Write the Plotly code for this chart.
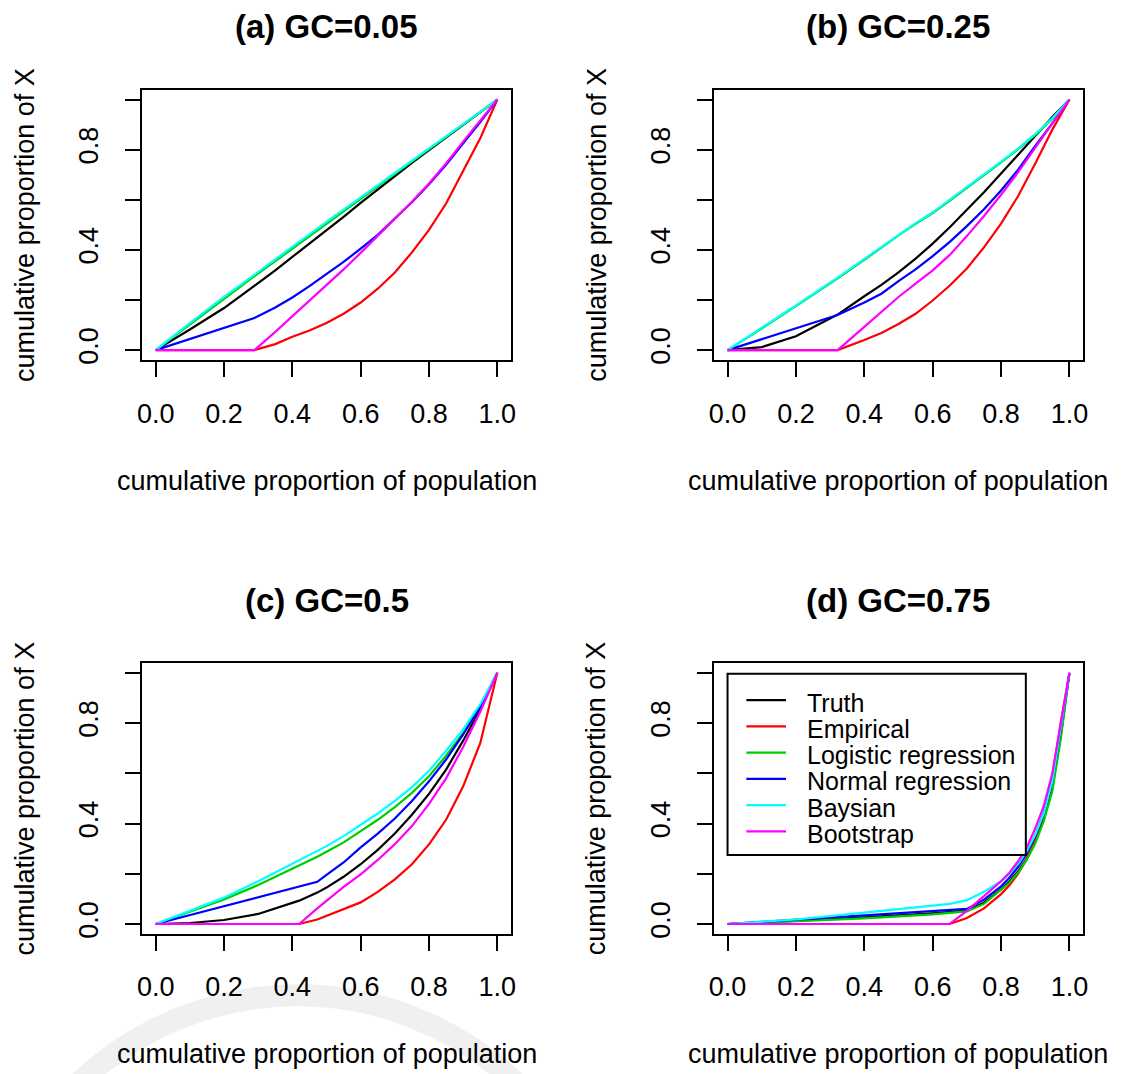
import plotly.graph_objects as go

W, H = 1123, 1074
OFF = 8  # default page body margin of the html page

# ---------------- data ----------------
SERIES = ["Truth", "Empirical", "Logistic regression", "Normal regression", "Baysian", "Bootstrap"]
COLORS = ["#000000", "#FF0000", "#00CD00", "#0000FF", "#00FFFF", "#FF00FF"]
TITLES = ["(a) GC=0.05", "(b) GC=0.25", "(c) GC=0.5", "(d) GC=0.75"]
X_TICKS = [0, 0.2, 0.4, 0.6, 0.8, 1.0]
X_TICK_TEXT = ["0.0", "0.2", "0.4", "0.6", "0.8", "1.0"]
Y_TICKS = [0, 0.2, 0.4, 0.6, 0.8, 1.0]
Y_TICK_TEXT = ["0.0", "", "0.4", "", "0.8", ""]
X_LABEL = "cumulative proportion of population"
Y_LABEL = "cumulative proportion of X"

# panel (a)
A_X = [0, 0.1, 0.2, 0.289, 0.35, 0.4, 0.45, 0.5, 0.55, 0.6, 0.65, 0.7, 0.75, 0.8, 0.85, 0.9, 0.95, 1.0]
A_TRUTH = [0, 0.082, 0.168, 0.256, 0.318, 0.372, 0.425, 0.478, 0.532, 0.588, 0.642, 0.695, 0.747, 0.798, 0.849, 0.9, 0.95, 1.0]
A_EMP = [0, 0, 0, 0, 0.024, 0.053, 0.078, 0.108, 0.145, 0.19, 0.245, 0.31, 0.39, 0.48, 0.585, 0.712, 0.845, 1.0]
A_LOGIT = [0, 0.103, 0.205, 0.295, 0.355, 0.405, 0.455, 0.505, 0.555, 0.604, 0.653, 0.703, 0.752, 0.802, 0.851, 0.901, 0.951, 1.0]
A_NORM = [0, 0.044, 0.088, 0.128, 0.17, 0.21, 0.255, 0.302, 0.352, 0.405, 0.46, 0.525, 0.59, 0.662, 0.74, 0.825, 0.91, 1.0]
A_BAYES = [0, 0.108, 0.212, 0.302, 0.362, 0.412, 0.462, 0.512, 0.561, 0.61, 0.659, 0.708, 0.757, 0.806, 0.855, 0.904, 0.952, 1.0]
A_BOOT = [0, 0, 0, 0, 0.073, 0.135, 0.195, 0.258, 0.322, 0.388, 0.455, 0.522, 0.592, 0.665, 0.745, 0.832, 0.915, 1.0]

# panel (b)
B_X = [0, 0.1, 0.2, 0.322, 0.4, 0.45, 0.5, 0.55, 0.6, 0.65, 0.7, 0.75, 0.8, 0.85, 0.9, 0.95, 1.0]
B_TRUTH = [0, 0.012, 0.055, 0.142, 0.215, 0.26, 0.31, 0.365, 0.425, 0.49, 0.56, 0.63, 0.705, 0.78, 0.855, 0.93, 1.0]
B_EMP = [0, 0, 0, 0, 0.04, 0.068, 0.104, 0.145, 0.198, 0.258, 0.326, 0.41, 0.505, 0.615, 0.745, 0.88, 1.0]
B_LOGIT = [0, 0.086, 0.176, 0.286, 0.36, 0.41, 0.458, 0.504, 0.547, 0.597, 0.647, 0.697, 0.749, 0.802, 0.859, 0.922, 1.0]
B_NORM = [0, 0.044, 0.087, 0.14, 0.19, 0.225, 0.275, 0.322, 0.375, 0.432, 0.495, 0.562, 0.637, 0.72, 0.815, 0.905, 1.0]
B_BAYES = [0, 0.088, 0.178, 0.289, 0.363, 0.413, 0.461, 0.507, 0.55, 0.6, 0.65, 0.7, 0.752, 0.805, 0.862, 0.925, 1.0]
B_BOOT = [0, 0, 0, 0, 0.093, 0.152, 0.212, 0.265, 0.318, 0.38, 0.455, 0.535, 0.62, 0.71, 0.81, 0.905, 1.0]

# panel (c)
C_X = [0, 0.1, 0.2, 0.3, 0.42, 0.473, 0.5, 0.55, 0.6, 0.65, 0.7, 0.75, 0.8, 0.85, 0.9, 0.95, 1.0]
C_TRUTH = [0, 0.004, 0.016, 0.04, 0.093, 0.125, 0.145, 0.188, 0.238, 0.295, 0.36, 0.435, 0.518, 0.615, 0.73, 0.855, 1.0]
C_EMP = [0, 0, 0, 0, 0, 0.018, 0.032, 0.058, 0.086, 0.128, 0.178, 0.238, 0.317, 0.415, 0.548, 0.72, 1.0]
C_LOGIT = [0, 0.048, 0.098, 0.155, 0.232, 0.268, 0.288, 0.325, 0.37, 0.415, 0.465, 0.522, 0.588, 0.67, 0.76, 0.865, 1.0]
C_NORM = [0, 0.0355, 0.071, 0.1065, 0.149, 0.168, 0.196, 0.245, 0.305, 0.36, 0.42, 0.49, 0.568, 0.655, 0.755, 0.865, 1.0]
C_BAYES = [0, 0.052, 0.105, 0.17, 0.252, 0.29, 0.31, 0.35, 0.395, 0.44, 0.49, 0.545, 0.61, 0.69, 0.775, 0.875, 1.0]
C_BOOT = [0, 0, 0, 0, 0, 0.062, 0.093, 0.148, 0.198, 0.255, 0.318, 0.39, 0.478, 0.58, 0.705, 0.845, 1.0]

# panel (d)
D_X = [0, 0.2, 0.4, 0.6, 0.65, 0.7, 0.75, 0.8, 0.825, 0.85, 0.875, 0.9, 0.925, 0.95, 0.975, 1.0]
D_TRUTH = [0, 0.012, 0.026, 0.042, 0.047, 0.053, 0.085, 0.138, 0.17, 0.21, 0.26, 0.33, 0.42, 0.545, 0.755, 1.0]
D_EMP = [0, 0, 0, 0, 0, 0.024, 0.062, 0.119, 0.155, 0.2, 0.26, 0.34, 0.445, 0.59, 0.805, 1.0]
D_LOGIT = [0, 0.01, 0.022, 0.038, 0.043, 0.05, 0.08, 0.135, 0.165, 0.205, 0.255, 0.32, 0.41, 0.53, 0.74, 1.0]
D_NORM = [0, 0.017, 0.034, 0.051, 0.056, 0.06, 0.097, 0.15, 0.185, 0.228, 0.28, 0.35, 0.44, 0.57, 0.78, 1.0]
D_BAYES = [0, 0.018, 0.045, 0.072, 0.08, 0.095, 0.128, 0.17, 0.2, 0.24, 0.29, 0.355, 0.44, 0.57, 0.78, 1.0]
D_BOOT = [0, 0, 0, 0, 0, 0.052, 0.11, 0.17, 0.205, 0.25, 0.305, 0.38, 0.47, 0.6, 0.8, 1.0]

PANELS = [
    (A_X, [A_TRUTH, A_EMP, A_LOGIT, A_NORM, A_BAYES, A_BOOT]),
    (B_X, [B_TRUTH, B_EMP, B_LOGIT, B_NORM, B_BAYES, B_BOOT]),
    (C_X, [C_TRUTH, C_EMP, C_LOGIT, C_NORM, C_BAYES, C_BOOT]),
    (D_X, [D_TRUTH, D_EMP, D_LOGIT, D_NORM, D_BAYES, D_BOOT]),
]

# ---------------- layout helpers (page pixel -> paper) ----------------
FW, FH = W - OFF, H - OFF


def px(x):
    return (x - OFF) / FW


def py(y):
    return 1 - (y - OFF) / FH


# plot boxes in page pixels: (left, right, top, bottom)
BOXES = [
    (138.2, 510.5, 89.9, 361.8),
    (715.2, 1087.8, 89.9, 361.8),
    (138.2, 510.5, 665.9, 938.4),
    (715.2, 1087.8, 665.9, 938.4),
]

FONT = "Liberation Sans, Arial, Helvetica, sans-serif"

fig = go.Figure()
layout = dict(
    width=FW, height=FH,
    margin=dict(l=0, r=0, t=0, b=0),
    paper_bgcolor="white", plot_bgcolor="white",
    showlegend=False,
    font=dict(family=FONT, size=27, color="black"),
    annotations=[], shapes=[],
)

for i, ((xs, ys_list), box) in enumerate(zip(PANELS, BOXES)):
    n = i + 1
    xa = "x" if n == 1 else f"x{n}"
    ya = "y" if n == 1 else f"y{n}"
    for name, col, ys in zip(SERIES, COLORS, ys_list):
        fig.add_trace(go.Scatter(x=xs, y=ys, mode="lines", name=name,
                                 line=dict(color=col, width=2.2),
                                 xaxis=xa, yaxis=ya, showlegend=False,
                                 hoverinfo="skip"))
    l, r, t, b = box
    common = dict(showgrid=False, zeroline=False, showline=True, mirror=True,
                  linecolor="black", linewidth=2, ticks="outside", ticklen=15,
                  tickwidth=2, tickcolor="black", range=[-0.04, 1.04],
                  fixedrange=True, tickfont=dict(family=FONT, size=27, color="black"))
    layout["xaxis" if n == 1 else f"xaxis{n}"] = dict(
        domain=[px(l), px(r)], anchor=ya, tickvals=X_TICKS, ticktext=X_TICK_TEXT,
        ticklabelstandoff=13, **common)
    layout["yaxis" if n == 1 else f"yaxis{n}"] = dict(
        domain=[py(b), py(t)], anchor=xa, tickvals=Y_TICKS, ticktext=Y_TICK_TEXT,
        tickangle=-90, ticklabelstandoff=16, **common)
    cx = (l + r) / 2
    cy = (t + b) / 2
    layout["annotations"].append(dict(text=f"<b>{TITLES[i]}</b>", x=px(cx), y=py(t - 63),
                                      xref="paper", yref="paper", showarrow=False,
                                      xanchor="center", yanchor="middle",
                                      font=dict(family=FONT, size=33, color="black")))
    layout["annotations"].append(dict(text=X_LABEL, x=px(cx), y=py(b + 121),
                                      xref="paper", yref="paper", showarrow=False,
                                      xanchor="center", yanchor="middle",
                                      font=dict(family=FONT, size=27, color="black")))
    layout["annotations"].append(dict(text=Y_LABEL, x=px(l - 118), y=py(cy),
                                      xref="paper", yref="paper", showarrow=False,
                                      xanchor="center", yanchor="middle", textangle=-90,
                                      font=dict(family=FONT, size=27, color="black")))

# faint watermark ring at bottom-left
RING_CX, RING_CY, RING_R = 295, 1320, 320
layout["shapes"].append(dict(type="circle", xref="paper", yref="paper",
                             x0=px(RING_CX - RING_R), x1=px(RING_CX + RING_R),
                             y0=py(RING_CY + RING_R), y1=py(RING_CY - RING_R),
                             line=dict(color="#f0f0f0", width=22), layer="below"))

# legend drawn in panel (d)
LEG_LEFT, LEG_RIGHT, LEG_TOP, LEG_BOTTOM = 729, 1030, 677, 859
layout["shapes"].append(dict(type="rect", xref="paper", yref="paper",
                             x0=px(LEG_LEFT), x1=px(LEG_RIGHT), y0=py(LEG_BOTTOM), y1=py(LEG_TOP),
                             line=dict(color="black", width=2), fillcolor="white"))
for k, (name, col) in enumerate(zip(SERIES, COLORS)):
    yy = 703.3 + k * 26.4
    layout["shapes"].append(dict(type="line", xref="paper", yref="paper",
                                 x0=px(748), x1=px(788), y0=py(yy), y1=py(yy),
                                 line=dict(color=col, width=2.2)))
    layout["annotations"].append(dict(text=name, x=px(807), y=py(yy + 2.5), xref="paper", yref="paper",
                                      showarrow=False, xanchor="left", yanchor="middle",
                                      font=dict(family=FONT, size=25, color="black")))

fig.update_layout(**layout)
fig.write_html("out.html")
